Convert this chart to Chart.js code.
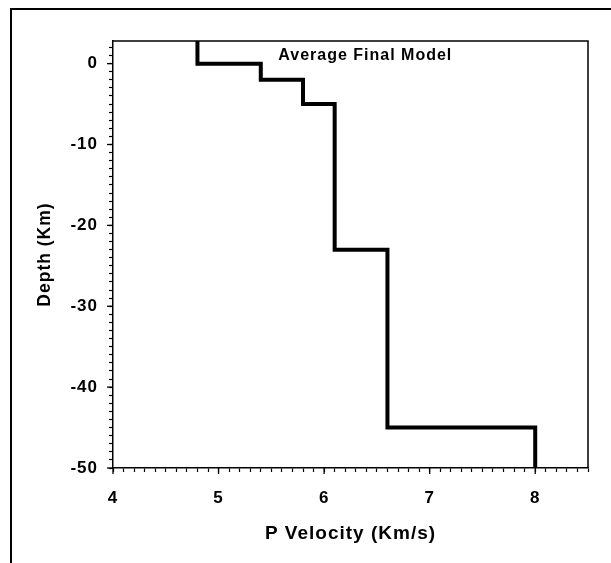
<!DOCTYPE html>
<html><head><meta charset="utf-8">
<script src="https://cdn.jsdelivr.net/npm/chart.js@4/dist/chart.umd.min.js"></script>
<style>
html,body{margin:0;padding:0;background:#fff;overflow:hidden}
#wrap{position:relative;width:611px;height:563px;overflow:hidden}
#frame{position:absolute;left:10px;top:8px;width:700px;height:700px;border-left:2px solid #000;border-top:2px solid #000;box-sizing:border-box;pointer-events:none}
canvas{position:absolute;left:0;top:0}
</style></head><body>
<div id="wrap"><canvas id="c" width="611" height="563"></canvas><div id="frame"></div></div>
<script>
// Layered P-velocity model
const layerVelocity = [4.8, 5.4, 5.8, 6.1, 6.6, 8.0];
const layerTop      = [2.8, 0, -2, -5, -23, -45];
const layerBottom   = [0, -2, -5, -23, -45, -50];
const xTickLabels = [4, 5, 6, 7, 8];
const yTickLabels = [0, -10, -20, -30, -40, -50];
const xMinorStep = 0.1;
const yMinorStep = 1;
const chartTitle = 'Average Final Model';
const titleAt = [6.39, 0.4];
const xTitle = 'P Velocity (Km/s)';
const yTitle = 'Depth (Km)';

const points = [];
layerVelocity.forEach((v, i) => {
  points.push({x: v, y: layerTop[i]});
  points.push({x: v, y: layerBottom[i]});
});

function stepTicks(min, max, step) {
  const out = [];
  const n = Math.round((max - min) / step);
  for (let i = 0; i <= n; i++) out.push({value: Math.round((min + i * step) * 1000) / 1000});
  return out;
}

const FONT = '"Liberation Sans", Arial, sans-serif';

const spacing = {
  id: 'spacing',
  beforeDraw(chart) { chart.ctx.letterSpacing = '1px'; },
  afterDraw(chart) { chart.ctx.letterSpacing = '0px'; }
};

const overlay = {
  id: 'overlay',
  afterDatasetsDraw(chart) {
    const {ctx, chartArea: a, scales: {x, y}} = chart;
    ctx.save();
    ctx.strokeStyle = '#000';
    ctx.lineWidth = 1.5;
    ctx.beginPath();
    ctx.moveTo(a.left, a.top); ctx.lineTo(a.right, a.top); ctx.lineTo(a.right, a.bottom);
    ctx.stroke();
    ctx.lineWidth = 1.3;
    xTickLabels.forEach(v => {
      const px = x.getPixelForValue(v);
      ctx.beginPath(); ctx.moveTo(px, a.bottom); ctx.lineTo(px, a.bottom + 6); ctx.stroke();
    });
    yTickLabels.forEach(v => {
      const py = y.getPixelForValue(v);
      ctx.beginPath(); ctx.moveTo(a.left, py); ctx.lineTo(a.left - 6, py); ctx.stroke();
    });
    ctx.font = 'bold 16px ' + FONT;
    ctx.fillStyle = '#000';
    ctx.textAlign = 'center';
    ctx.textBaseline = 'alphabetic';
    ctx.fillText(chartTitle, x.getPixelForValue(titleAt[0]), y.getPixelForValue(titleAt[1]));
    ctx.restore();
  }
};

new Chart(document.getElementById('c'), {
  type: 'scatter',
  data: {
    datasets: [{
      data: points,
      showLine: true,
      borderColor: '#000',
      backgroundColor: '#000',
      borderWidth: 4,
      pointRadius: 0,
      borderJoinStyle: 'miter',
      borderCapStyle: 'butt',
      tension: 0
    }]
  },
  options: {
    responsive: false,
    devicePixelRatio: 1,
    animation: false,
    layout: {padding: {left: 0, right: 23, top: 41, bottom: 0}},
    plugins: {legend: {display: false}, tooltip: {enabled: false}, title: {display: false}},
    scales: {
      x: {
        type: 'linear', min: 4, max: 8.5,
        afterBuildTicks: s => { s.ticks = stepTicks(4, 8.5, xMinorStep); },
        afterFit: s => { s.height = 95; },
        ticks: {
          autoSkip: false, maxRotation: 0, minRotation: 0, padding: 16, color: '#000',
          font: {family: FONT, size: 17, weight: 'bold'},
          callback: v => xTickLabels.includes(Math.round(v * 1000) / 1000) ? String(Math.round(v)) : ''
        },
        grid: {display: true, drawOnChartArea: false, drawTicks: true, tickLength: 4, tickColor: '#000', tickWidth: 1.2, color: '#000'},
        border: {display: true, color: '#000', width: 1.5},
        title: {display: true, text: xTitle, color: '#000', font: {family: FONT, size: 19, weight: 'bold'}, padding: {top: 0, bottom: 18}}
      },
      y: {
        type: 'linear', min: -50, max: 2.8,
        afterBuildTicks: s => { s.ticks = stepTicks(-50, 2, yMinorStep); },
        afterFit: s => { s.width = 113; },
        ticks: {
          autoSkip: false, padding: 11, color: '#000',
          font: {family: FONT, size: 17, weight: 'bold'},
          callback: v => yTickLabels.includes(Math.round(v * 1000) / 1000) ? String(Math.round(v)) : ''
        },
        grid: {display: true, drawOnChartArea: false, drawTicks: true, tickLength: 4, tickColor: '#000', tickWidth: 1.2, color: '#000'},
        border: {display: true, color: '#000', width: 1.5},
        title: {display: true, text: yTitle, color: '#000', font: {family: FONT, size: 17.5, weight: 'bold'}, padding: {top: 35, bottom: 0}}
      }
    }
  },
  plugins: [spacing, overlay]
});
</script>
</body></html>
